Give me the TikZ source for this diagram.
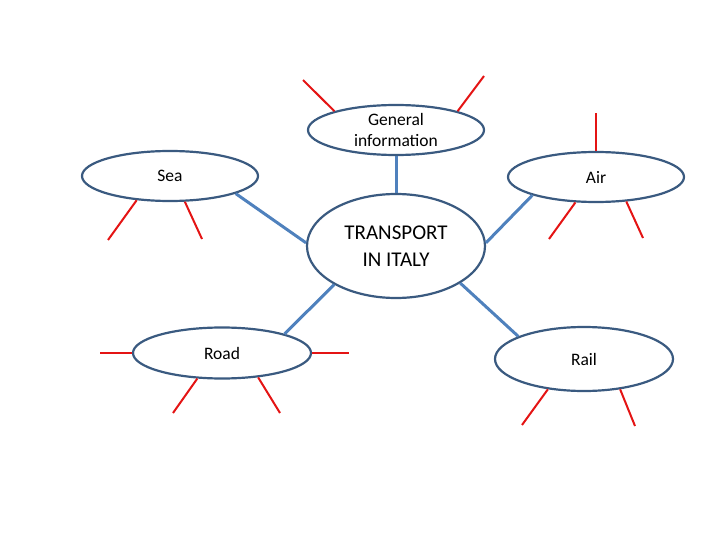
\documentclass[tikz,border=0pt]{standalone}
\usepackage{fontspec}
\setmainfont{Carlito}
\usetikzlibrary{shapes.geometric}
\definecolor{ellborder}{RGB}{58,90,128}
\definecolor{conn}{RGB}{79,129,189}
\definecolor{redline}{RGB}{228,20,20}
\tikzset{
  topic/.style={ellipse, draw=ellborder, line width=2.2pt, fill=white, inner sep=0pt,
    minimum width=176pt, minimum height=50pt, font=\fontsize{17.5}{21}\selectfont, align=center},
  link/.style={draw=conn, line width=3pt},
  spoke/.style={draw=redline, line width=2pt}
}
\begin{document}
\begin{tikzpicture}[x=1pt,y=-1pt]
\useasboundingbox (0,0) rectangle (720,540);
\node[topic, minimum width=178pt, minimum height=104pt, font=\fontsize{21}{27}\selectfont] (center) at (396,246) {TRANSPORT\\IN ITALY};
\node[topic] (gi) at (396,130) {General\\information};
\node[topic] (sea) at (170,176) {Sea};
\node[topic] (air) at (596,177) {Air};
\node[topic, minimum width=178pt, minimum height=51pt] (road) at (222,353) {Road};
\node[topic, minimum width=178pt, minimum height=64pt] (rail) at (584,359) {Rail};
% blue connectors
\draw[link] (gi.south) -- (center.north);
\draw[link] (sea.-15) -- (center.178);
\draw[link] (air.196) -- (center.2);
\draw[link] (center.212) -- (road.17);
\draw[link] (center.-30) -- (rail.161);
% free ends of red spokes
\coordinate (g1) at (303,80);
\coordinate (g2) at (484,76);
\coordinate (s1) at (108,240);
\coordinate (s2) at (202,239);
\coordinate (a1) at (596,113);
\coordinate (a2) at (549,239);
\coordinate (a3) at (643,238);
\coordinate (r1) at (100,353);
\coordinate (r2) at (349,353);
\coordinate (r3) at (173,413);
\coordinate (r4) at (280,413);
\coordinate (l1) at (522,425);
\coordinate (l2) at (635,426);
% red spokes
\draw[spoke] (gi.163) -- (g1);
\draw[spoke] (gi.17) -- (g2);
\draw[spoke] (sea.216) -- (s1);
\draw[spoke] (sea.-60) -- (s2);
\draw[spoke] (air.north) -- (a1);
\draw[spoke] (air.231) -- (a2);
\draw[spoke] (air.-39) -- (a3);
\draw[spoke] (road.west) -- (r1);
\draw[spoke] (road.east) -- (r2);
\draw[spoke] (road.226) -- (r3);
\draw[spoke] (road.-34) -- (r4);
\draw[spoke] (rail.220) -- (l1);
\draw[spoke] (rail.-40) -- (l2);
\end{tikzpicture}
\end{document}
